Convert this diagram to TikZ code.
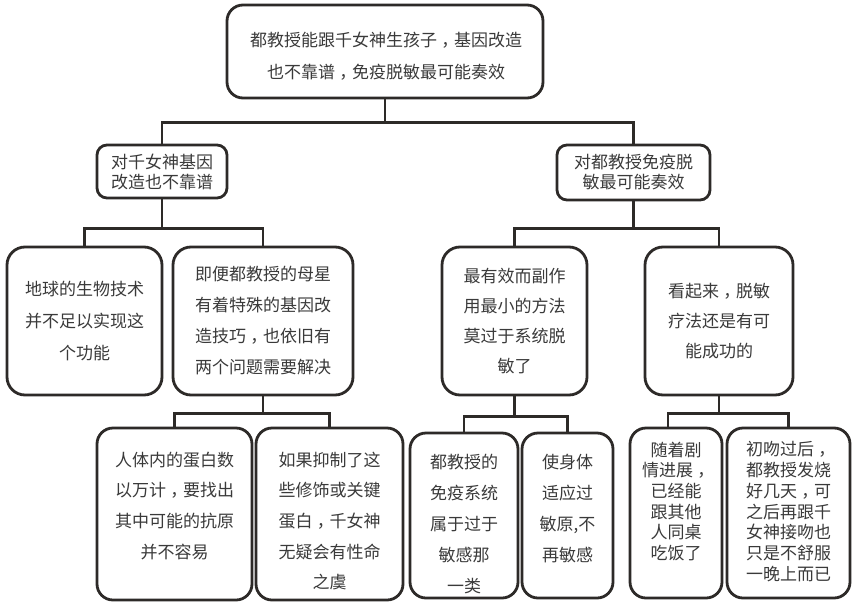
\documentclass[tikz,border=0pt]{standalone}
\usepackage{fontspec}
\newfontfamily\cjk{Noto Sans CJK SC}
\newcommand\zc{\makebox[1em][c]{\makebox[0.5em][l]{，}}}
\definecolor{lc}{RGB}{45,42,40}
\definecolor{tc}{RGB}{58,58,58}
\tikzset{
  box/.style={draw=lc, line width=2.8pt, rounded corners=#1, fill=white, inner sep=0pt},
  txt/.style={text=tc, align=center, inner sep=0pt, font=\cjk\fontsize{17}{#1}\selectfont},
  conn/.style={draw=lc, line width=2.8pt},
}
\begin{document}
\begin{tikzpicture}[x=1pt,y=-1pt]
\useasboundingbox[fill=white] (0,0) rectangle (859,608);
% level 1
\node[box=16, minimum width=316, minimum height=93] (top) at (385,51.5) {};
\node[txt=32] (topt) at (386,56)
  {都教授能跟千女神生孩子\zc 基因改造\\也不靠谱\zc 免疫脱敏最可能奏效};
% level 2
\node[box=10, minimum width=130, minimum height=53, txt=20] (L) at (162,171.5)
  {对千女神基因\\改造也不靠谱};
\node[box=10, minimum width=153, minimum height=55, txt=20] (R) at (633.5,172.5)
  {对都教授免疫脱\\敏最可能奏效};
% level 3
\node[box=18, minimum width=155, minimum height=148, txt=32] (a1) at (84.5,321)
  {地球的生物技术\\并不足以实现这\\个功能};
\node[box=18, minimum width=180, minimum height=148, txt=31] (a2) at (263,321)
  {即便都教授的母星\\有着特殊的基因改\\造技巧\zc 也依旧有\\两个问题需要解决};
\node[box=18, minimum width=145, minimum height=148, txt=30] (b1) at (514.5,321)
  {最有效而副作\\用最小的方法\\莫过于系统脱\\敏了};
\node[box=18, minimum width=148, minimum height=148, txt=30] (b2) at (719,321)
  {看起来\zc 脱敏\\疗法还是有可\\能成功的};
% level 4 boxes
\node[box=16, minimum width=155, minimum height=172] (c1) at (174.5,514) {};
\node[box=16, minimum width=147, minimum height=172] (c2) at (329.5,514) {};
\node[box=16, minimum width=108, minimum height=165] (d1) at (464,515.5) {};
\node[box=16, minimum width=91, minimum height=165] (d2) at (567.5,515.5) {};
\node[box=16, minimum width=92, minimum height=170] (e1) at (676,513) {};
\node[box=16, minimum width=123, minimum height=170] (e2) at (788.5,513) {};
% level 4 texts
\node[txt=30.7, anchor=north] (c1t) at (174.5,451.5)
  {人体内的蛋白数\\以万计\zc 要找出\\其中可能的抗原\\并不容易};
\node[txt=30.7, anchor=north] (c2t) at (329.5,451.5)
  {如果抑制了这\\些修饰或关键\\蛋白\zc 千女神\\无疑会有性命\\之虞};
\node[txt=31, anchor=north] (d1t) at (464,453.5)
  {都教授的\\免疫系统\\属于过于\\敏感那\\一类};
\node[txt=31, anchor=north] (d2t) at (567.5,453.5)
  {使身体\\适应过\\敏原,不\\再敏感};
\node[txt=20.7, anchor=north] (e1t) at (676,441.5)
  {随着剧\\情进展\zc\\已经能\\跟其他\\人同桌\\吃饭了};
\node[txt=20.7, anchor=north] (e2t) at (788.5,441.5)
  {初吻过后\zc\\都教授发烧\\好几天\zc 可\\之后再跟千\\女神接吻也\\只是不舒服\\一晚上而已};
% connectors
\draw[conn] (top.south) -- ++(0,23) -| (L.north);
\draw[conn] (top.south) -- ++(0,23) -| (R.north);
\draw[conn] (L.south) -- ++(0,29) -| (a1.north);
\draw[conn] (L.south) -- ++(0,29) -| (a2.north);
\draw[conn] (R.south) -- ++(0,27) -| (b1.north);
\draw[conn] (R.south) -- ++(0,27) -| (b2.north);
\draw[conn] (a2.south) -- ++(0,17) -| (c1.north);
\draw[conn] (a2.south) -- ++(0,17) -| (c2.north);
\draw[conn] (b1.south) -- ++(0,20) -| (d1.north);
\draw[conn] (b1.south) -- ++(0,20) -| (d2.north);
\draw[conn] (b2.south) -- ++(0,17) -| ([xshift=-8pt]e1.north);
\draw[conn] (b2.south) -- ++(0,17) -| (e2.north);
\end{tikzpicture}
\end{document}
